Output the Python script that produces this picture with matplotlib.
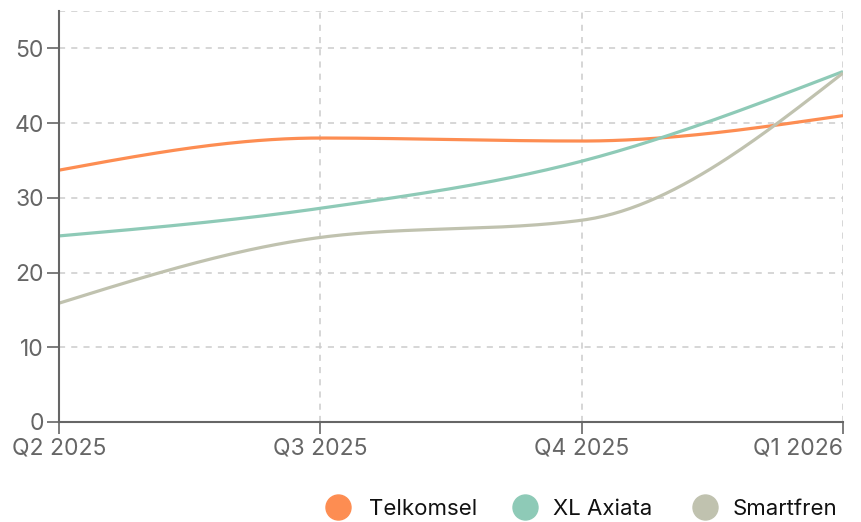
import numpy as np
import matplotlib
matplotlib.use("Agg")
import matplotlib.pyplot as plt
from matplotlib.lines import Line2D

categories = ["Q2 2025", "Q3 2025", "Q4 2025", "Q1 2026"]
telkomsel = [33.7, 38.0, 37.6, 41.0]
xl_axiata = [24.9, 28.6, 34.9, 46.9]
smartfren = [15.9, 24.7, 27.0, 46.7]
series_names = ["Telkomsel", "XL Axiata", "Smartfren"]
colors = ["#fd8d52", "#8ecab7", "#c0c2af"]
yticks = [0, 10, 20, 30, 40, 50]

plt.rcParams['font.family'] = ['Inter', 'DejaVu Sans']

W, H = 861, 522


def monotone_x(x, y, n=60):
    """d3 curveMonotoneX style interpolation."""
    x = np.asarray(x, float); y = np.asarray(y, float)
    m = len(x)
    h = np.diff(x)
    s = np.diff(y) / h
    t = np.zeros(m)
    for i in range(1, m - 1):
        s0, s1 = s[i - 1], s[i]
        h0, h1 = h[i - 1], h[i]
        p = (s0 * h1 + s1 * h0) / (h0 + h1)
        t[i] = (np.sign(s0) + np.sign(s1)) * min(abs(s0), abs(s1), 0.5 * abs(p))
    t[0] = (3 * s[0] - t[1]) / 2 if m > 2 else s[0]
    t[-1] = (3 * s[-1] - t[-2]) / 2 if m > 2 else s[-1]
    xs, ys = [], []
    for i in range(m - 1):
        u = np.linspace(0, 1, n)
        x0, x1 = x[i], x[i + 1]
        dx = (x1 - x0) / 3
        p0, p3 = y[i], y[i + 1]
        p1 = p0 + dx * t[i]
        p2 = p3 - dx * t[i + 1]
        bx = (1-u)**3*x0 + 3*(1-u)**2*u*(x0+dx) + 3*(1-u)*u**2*(x1-dx) + u**3*x1
        by = (1-u)**3*p0 + 3*(1-u)**2*u*p1 + 3*(1-u)*u**2*p2 + u**3*p3
        xs.extend(bx); ys.extend(by)
    return np.array(xs), np.array(ys)


fig = plt.figure(figsize=(W/100, H/100), dpi=100)
ax = fig.add_axes([59/W, 1 - 422/H, (843 - 59)/W, (422 - 11)/H])

xpos = np.arange(len(categories))
for name, vals, c in zip(series_names, [telkomsel, xl_axiata, smartfren], colors):
    sx, sy = monotone_x(xpos, vals)
    ax.plot(sx, sy, color=c, lw=2.3, solid_capstyle='butt', zorder=3)

ax.set_xlim(0, 3)
ax.set_ylim(0, 55)
ax.set_xticks(xpos)
ax.set_xticklabels(categories)
ax.set_yticks(yticks)

grid_kw = dict(color="#cccccc", lw=1.1, ls=(0, (4, 4)), zorder=1)
for yv in yticks[1:] + [55]:
    ax.axhline(yv, **grid_kw)
for xv in xpos[1:]:
    ax.axvline(xv, **grid_kw)

for sp in ["top", "right"]:
    ax.spines[sp].set_visible(False)
for sp in ["left", "bottom"]:
    ax.spines[sp].set_color("#666666")
    ax.spines[sp].set_linewidth(1.5)
    ax.spines[sp].set_zorder(4)
ax.tick_params(axis="both", colors="#666666", labelcolor="#666666",
               labelsize=16.5, length=8.5, width=1.2, pad=2.5)
xlabels = ax.get_xticklabels()
xlabels[-1].set_horizontalalignment("right")

# legend, laid out by hand
marker_px = [338, 525, 705]
text_px = [369, 553, 733]
leg_y = 1 - 507/H
for name, c, mx, tx in zip(series_names, colors, marker_px, text_px):
    fig.add_artist(Line2D([mx/W], [leg_y], marker='o', ls='none', markersize=18,
                          markerfacecolor=c, markeredgecolor=c,
                          transform=fig.transFigure))
    fig.text(tx/W, leg_y, name, fontsize=16, color="#111111",
             ha="left", va="center_baseline")

fig.savefig("out.png", dpi=100)
